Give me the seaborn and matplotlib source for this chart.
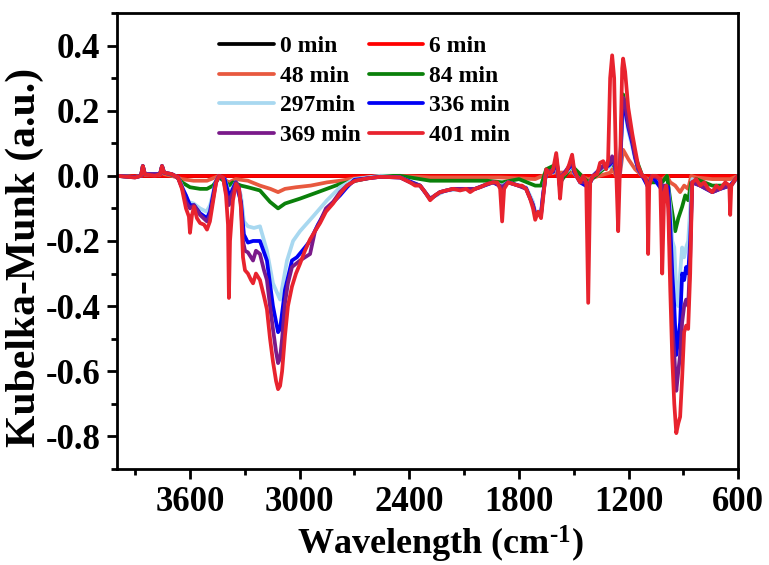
import numpy as np
import pandas as pd
import matplotlib
matplotlib.use("Agg")
import matplotlib.pyplot as plt
from matplotlib.lines import Line2D
from matplotlib.ticker import MultipleLocator, FormatStrFormatter
import seaborn as sns

# ---------------- data ----------------
series_names = ["0 min", "6 min", "48 min", "84 min", "297min", "336 min", "369 min", "401 min"]
series_colors = ["#000000", "#FF0000", "#E8593F", "#0A800A", "#A8D8F0", "#0000F5", "#7A1A8A", "#E8232E"]

wn_0 = [4000, 3000, 2000, 1000, 600]
km_0 = [0.0, 0.0, 0.0, 0.0, 0.0]

wn_6 = [4000, 3000, 2000, 1000, 600]
km_6 = [0.0, 0.0, 0.0, 0.0, 0.0]

wn_48 = [4000, 3901, 3868, 3858, 3847, 3764, 3753, 3742, 3700, 3644, 3580, 3507, 3441, 3387, 3350, 3283,
         3217, 3160, 3118, 3080, 3020, 2940, 2850, 2779, 2700, 2600, 2450, 2286, 2100, 1900, 1711, 1651,
         1596, 1509, 1421, 1300, 1290, 1268, 1246, 1230, 1200, 1164, 1125, 1093, 1016, 990, 972, 945,
         918, 896, 874, 857, 830, 742, 644, 600]
km_48 = [0.0, -0.003, 0.0, 0.02, 0.003, 0.003, 0.02, 0.005, 0.0, -0.01, -0.015, -0.015, 0.0, -0.02, -0.01, -0.015,
         -0.03, -0.04, -0.05, -0.04, -0.035, -0.03, -0.02, -0.015, -0.008, -0.003, 0.0, -0.005, -0.005, -0.005, -0.01, 0.005,
         0.01, 0.01, -0.01, 0.01, 0.02, 0.0, 0.01, 0.08, 0.05, 0.02, 0.0, -0.01, -0.01, 0.0, -0.02, -0.03,
         -0.05, -0.03, -0.04, 0.0, -0.005, -0.01, -0.01, 0.0]

wn_84 = [4000, 3901, 3868, 3858, 3847, 3764, 3753, 3742, 3680, 3644, 3600, 3545, 3507, 3474, 3441, 3403,
         3387, 3365, 3321, 3283, 3217, 3162, 3118, 3080, 2998, 2900, 2779, 2650, 2560, 2450, 2286, 2100,
         1974, 1892, 1800, 1711, 1679, 1651, 1596, 1575, 1509, 1421, 1339, 1301, 1290, 1279, 1268, 1246,
         1235, 1230, 1219, 1202, 1180, 1164, 1125, 1093, 1016, 990, 972, 945, 928, 907, 890, 874, 857,
         830, 742, 644, 600]
km_84 = [0.0, -0.004, 0.0, 0.03, 0.005, 0.005, 0.03, 0.01, 0.0, -0.02, -0.035, -0.04, -0.04, -0.03, -0.005, -0.02,
         -0.03, -0.02, -0.03, -0.035, -0.045, -0.08, -0.10, -0.085, -0.07, -0.05, -0.025, -0.01, 0.0, 0.0, -0.015, -0.015,
         -0.015, -0.02, -0.01, -0.03, -0.03, 0.02, 0.035, -0.02, 0.03, -0.02, 0.02, 0.03, 0.04, 0.03, 0.01, 0.03,
         0.2, 0.25, 0.22, 0.17, 0.1, 0.06, 0.0, -0.02, -0.02, 0.0, -0.075, -0.17, -0.13, -0.095, -0.06, -0.075, -0.02,
         -0.01, -0.03, -0.03, 0.0]

wn_297 = [4000, 3901, 3868, 3858, 3847, 3764, 3753, 3742, 3699, 3666, 3644, 3610, 3580, 3545, 3510, 3490,
          3460, 3441, 3410, 3392, 3387, 3381, 3350, 3321, 3305, 3283, 3250, 3217, 3179, 3146, 3107, 3069,
          3036, 2998, 2927, 2850, 2779, 2700, 2560, 2450, 2341, 2286, 2200, 2040, 1941, 1892, 1859, 1800,
          1761, 1723, 1711, 1679, 1668, 1651, 1613, 1596, 1586, 1575, 1564, 1525, 1509, 1498, 1465, 1421,
          1394, 1339, 1312, 1301, 1290, 1279, 1268, 1257, 1246, 1235, 1230, 1219, 1202, 1180, 1164, 1147,
          1125, 1093, 1071, 1016, 994, 983, 972, 961, 950, 939, 928, 918, 907, 896, 885, 874, 863, 852,
          808, 742, 699, 644, 600]
km_297 = [0.0, -0.004, 0.0, 0.03, 0.005, 0.005, 0.03, 0.01, 0.005, -0.005, -0.03, -0.08, -0.085, -0.10, -0.11, -0.09,
          -0.02, 0.0, -0.01, -0.04, -0.07, -0.05, -0.02, -0.06, -0.14, -0.155, -0.16, -0.155, -0.23, -0.33, -0.38, -0.26,
          -0.2, -0.17, -0.125, -0.075, -0.035, -0.01, 0.0, -0.005, -0.03, -0.07, -0.045, -0.04, -0.02, -0.03, -0.02, -0.03,
          -0.035, -0.08, -0.11, -0.11, -0.05, 0.01, 0.01, 0.04, 0.01, -0.03, 0.0, 0.02, 0.04, 0.01, -0.02, -0.03,
          0.0, 0.025, 0.025, 0.03, 0.05, 0.04, 0.01, -0.02, 0.02, 0.17, 0.2, 0.19, 0.14, 0.09, 0.05, 0.02,
          0.0, -0.03, 0.0, -0.04, -0.03, -0.04, -0.1, -0.2, -0.22, -0.35, -0.4, -0.3, -0.22, -0.25, -0.22, -0.2, -0.1, -0.01,
          -0.03, -0.05, -0.04, -0.03, 0.0]

wn_336 = [4000, 3901, 3868, 3858, 3847, 3764, 3753, 3742, 3699, 3666, 3644, 3622, 3600, 3578, 3545, 3507,
          3491, 3460, 3441, 3410, 3392, 3387, 3381, 3350, 3321, 3305, 3283, 3255, 3239, 3217, 3179, 3146,
          3118, 3107, 3080, 3042, 3015, 2971, 2943, 2900, 2850, 2779, 2741, 2700, 2560, 2450, 2341, 2286,
          2232, 2160, 2040, 1941, 1892, 1859, 1800, 1761, 1723, 1711, 1679, 1668, 1651, 1613, 1596, 1586,
          1575, 1564, 1525, 1509, 1498, 1465, 1421, 1394, 1339, 1312, 1301, 1290, 1279, 1268, 1257, 1246,
          1235, 1230, 1219, 1202, 1180, 1164, 1147, 1125, 1093, 1071, 1016, 994, 983, 972, 961, 950, 939,
          928, 918, 907, 896, 885, 874, 863, 852, 808, 742, 699, 644, 600]
km_336 = [0.0, -0.004, 0.0, 0.03, 0.005, 0.005, 0.03, 0.01, 0.005, -0.005, -0.035, -0.06, -0.09, -0.09, -0.115, -0.13,
          -0.11, -0.02, 0.0, -0.01, -0.05, -0.08, -0.06, -0.02, -0.08, -0.18, -0.205, -0.2, -0.2, -0.2, -0.26, -0.4,
          -0.48, -0.47, -0.35, -0.26, -0.25, -0.22, -0.2, -0.15, -0.1, -0.06, -0.035, -0.012, -0.003, -0.005, -0.03, -0.072,
          -0.05, -0.04, -0.04, -0.02, -0.035, -0.02, -0.03, -0.038, -0.09, -0.115, -0.115, -0.06, 0.012, 0.012, 0.05, 0.012,
          -0.035, 0.0, 0.025, 0.045, 0.012, -0.02, -0.035, 0.0, 0.03, 0.03, 0.035, 0.05, 0.04, 0.01, -0.02, 0.025,
          0.19, 0.22, 0.2, 0.15, 0.1, 0.055, 0.02, 0.0, -0.035, 0.0, -0.045, -0.03, -0.035, -0.15, -0.3, -0.4, -0.55,
          -0.5, -0.45, -0.3, -0.32, -0.28, -0.3, -0.2, -0.02, -0.03, -0.05, -0.04, -0.03, 0.0]

wn_369 = [4000, 3901, 3868, 3858, 3847, 3764, 3753, 3742, 3699, 3666, 3644, 3622, 3600, 3578, 3545, 3507,
          3491, 3474, 3457, 3441, 3419, 3403, 3387, 3381, 3365, 3348, 3332, 3321, 3310, 3299, 3283, 3255,
          3239, 3217, 3195, 3179, 3162, 3146, 3129, 3118, 3107, 3096, 3080, 3064, 3042, 2998, 2971, 2943,
          2916, 2888, 2856, 2817, 2779, 2741, 2697, 2631, 2560, 2450, 2396, 2341, 2286, 2232, 2160, 2089,
          2040, 1974, 1941, 1903, 1892, 1881, 1859, 1804, 1761, 1723, 1711, 1679, 1668, 1651, 1613, 1596,
          1586, 1575, 1564, 1525, 1509, 1498, 1465, 1432, 1421, 1410, 1394, 1339, 1312, 1301, 1290, 1279,
          1268, 1257, 1246, 1235, 1230, 1219, 1202, 1180, 1164, 1147, 1125, 1098, 1093, 1087, 1071, 1027,
          1016, 1005, 994, 983, 972, 961, 950, 939, 928, 918, 907, 896, 885, 874, 863, 852, 808,
          742, 699, 649, 644, 638, 600]
km_369 = [0.0, -0.005, 0.0, 0.03, 0.005, 0.005, 0.03, 0.01, 0.005, -0.005, -0.035, -0.08, -0.1, -0.09, -0.12, -0.14,
          -0.12, -0.07, -0.02, 0.0, -0.005, -0.05, -0.09, -0.07, -0.05, -0.02, -0.035, -0.09, -0.2, -0.23, -0.235, -0.26,
          -0.23, -0.24, -0.29, -0.32, -0.40, -0.47, -0.54, -0.575, -0.56, -0.5, -0.39, -0.33, -0.28, -0.26, -0.25, -0.24,
          -0.17, -0.14, -0.1, -0.08, -0.05, -0.03, -0.015, -0.008, -0.003, -0.005, -0.02, -0.03, -0.07, -0.05, -0.04, -0.04,
          -0.04, -0.025, -0.02, -0.03, -0.04, -0.03, -0.02, -0.03, -0.04, -0.09, -0.12, -0.12, -0.06, 0.015, 0.015, 0.055,
          0.015, -0.04, 0.0, 0.03, 0.05, 0.015, -0.02, -0.02, -0.04, -0.02, 0.0, 0.03, 0.035, 0.04, 0.06, 0.045,
          0.01, -0.02, 0.03, 0.22, 0.24, 0.22, 0.16, 0.11, 0.06, 0.02, 0.0, -0.02, -0.04, -0.02, 0.0, -0.01,
          -0.05, -0.03, -0.03, -0.07, -0.25, -0.45, -0.55, -0.66, -0.6, -0.55, -0.45, -0.4, -0.38, -0.4, -0.25, -0.02, -0.03,
          -0.05, -0.04, -0.03, -0.04, -0.03, 0.0]

wn_401 = [4000, 3901, 3868, 3858, 3847, 3792, 3764, 3753, 3742, 3699, 3666, 3644, 3622, 3606, 3600, 3589,
          3578, 3562, 3545, 3523, 3507, 3491, 3474, 3457, 3441, 3419, 3403, 3392, 3387, 3381, 3365, 3348,
          3332, 3321, 3310, 3299, 3283, 3266, 3255, 3239, 3217, 3195, 3179, 3162, 3146, 3129, 3118, 3107,
          3096, 3080, 3064, 3042, 3020, 2998, 2971, 2943, 2916, 2888, 2856, 2817, 2779, 2741, 2697, 2631,
          2560, 2450, 2396, 2368, 2341, 2314, 2286, 2259, 2232, 2199, 2160, 2122, 2089, 2067, 2040, 2012,
          1974, 1941, 1919, 1903, 1892, 1881, 1859, 1832, 1804, 1783, 1761, 1739, 1723, 1711, 1695, 1679,
          1668, 1651, 1629, 1613, 1596, 1586, 1575, 1564, 1542, 1525, 1509, 1498, 1481, 1465, 1449, 1432,
          1421, 1410, 1394, 1372, 1356, 1339, 1323, 1312, 1301, 1290, 1279, 1268, 1257, 1246, 1235, 1230,
          1219, 1202, 1180, 1164, 1147, 1125, 1109, 1098, 1093, 1087, 1071, 1049, 1027, 1016, 1005, 994,
          983, 972, 961, 950, 939, 928, 918, 907, 896, 885, 874, 863, 852, 830, 808, 786, 764, 742,
          720, 699, 671, 649, 644, 638, 616, 600]
km_401 = [0.0, -0.005, 0.0, 0.03, 0.005, 0.0, 0.005, 0.03, 0.01, 0.005, -0.005, -0.04, -0.1, -0.125, -0.175, -0.12,
          -0.095, -0.13, -0.145, -0.15, -0.165, -0.14, -0.08, -0.02, 0.0, -0.005, -0.06, -0.15, -0.375, -0.2, -0.075, -0.025,
          -0.04, -0.1, -0.25, -0.29, -0.30, -0.32, -0.33, -0.30, -0.32, -0.37, -0.41, -0.50, -0.57, -0.63, -0.655, -0.645,
          -0.6, -0.49, -0.40, -0.34, -0.30, -0.27, -0.23, -0.195, -0.17, -0.145, -0.11, -0.085, -0.055, -0.03, -0.015, -0.008,
          -0.003, -0.005, -0.02, -0.03, -0.03, -0.05, -0.075, -0.06, -0.05, -0.045, -0.04, -0.045, -0.04, -0.05, -0.04, -0.035,
          -0.025, -0.02, -0.02, -0.04, -0.14, -0.04, -0.02, -0.025, -0.03, -0.03, -0.04, -0.07, -0.10, -0.135, -0.11, -0.13,
          -0.07, 0.02, 0.005, 0.02, 0.07, 0.02, -0.07, 0.0, 0.01, 0.035, 0.065, 0.02, -0.005, -0.02, 0.0, -0.02,
          -0.39, -0.02, 0.0, 0.005, 0.04, 0.045, 0.02, 0.05, 0.30, 0.37, 0.30, 0.02, -0.17, 0.05, 0.33, 0.36,
          0.32, 0.21, 0.13, 0.08, 0.03, 0.0, -0.005, -0.03, -0.24, -0.03, 0.0, 0.0, -0.01, -0.30, -0.05, -0.03,
          -0.10, -0.35, -0.56, -0.70, -0.79, -0.76, -0.74, -0.62, -0.48, -0.46, -0.47, -0.30, -0.02, -0.01, -0.03, -0.02, -0.04, -0.05,
          -0.03, -0.04, -0.02, -0.03, -0.12, -0.03, -0.01, 0.0]

# ---------------- build long table ----------------
all_wn = [wn_0, wn_6, wn_48, wn_84, wn_297, wn_336, wn_369, wn_401]
all_km = [km_0, km_6, km_48, km_84, km_297, km_336, km_369, km_401]
frames = []
for name, w, k in zip(series_names, all_wn, all_km):
    frames.append(pd.DataFrame({"wn": w, "km": k, "series": name}))
df = pd.concat(frames, ignore_index=True)

# ---------------- style ----------------
sns.set_theme(style="ticks")
plt.rcParams["font.family"] = ["Liberation Serif", "DejaVu Serif"]
plt.rcParams["font.weight"] = "bold"
plt.rcParams["axes.labelweight"] = "bold"
plt.rcParams["axes.unicode_minus"] = False
plt.rcParams["text.color"] = "black"
plt.rcParams["axes.labelcolor"] = "black"
plt.rcParams["xtick.color"] = "black"
plt.rcParams["ytick.color"] = "black"
plt.rcParams["mathtext.fontset"] = "custom"
plt.rcParams["mathtext.rm"] = "Liberation Serif:bold"
plt.rcParams["mathtext.bf"] = "Liberation Serif:bold"
plt.rcParams["mathtext.it"] = "Liberation Serif:bold"
plt.rcParams["mathtext.default"] = "bf"

fig = plt.figure(figsize=(7.69, 5.65), dpi=100)
ax = fig.add_axes([0.152, 0.170, 0.808, 0.807])

palette = dict(zip(series_names, series_colors))
sns.lineplot(data=df, x="wn", y="km", hue="series", hue_order=series_names,
             palette=palette, estimator=None, sort=False, linewidth=2.7,
             legend=False, ax=ax)

ax.set_xlim(4000, 600)
ax.set_ylim(-0.9, 0.5)
ax.set_xticks([3600, 3000, 2400, 1800, 1200, 600])
ax.xaxis.set_minor_locator(MultipleLocator(300))
ax.yaxis.set_major_locator(MultipleLocator(0.2))
ax.yaxis.set_minor_locator(MultipleLocator(0.1))
ax.yaxis.set_major_formatter(FormatStrFormatter("%.1f"))

for s in ax.spines.values():
    s.set_linewidth(2.0)
    s.set_color("black")
ax.tick_params(axis="both", which="major", direction="out", length=7, width=2.0,
               labelsize=25, top=False, right=False, colors="black", pad=5)
ax.tick_params(axis="both", which="minor", direction="out", length=4.5, width=2.0,
               top=False, right=False, colors="black")
for lbl in ax.get_xticklabels() + ax.get_yticklabels():
    lbl.set_fontweight("bold")

ax.set_xlabel(r"Wavelength (cm$^{\text{-}1}$)", fontsize=26, fontweight="bold", color="black")
ax.set_ylabel("Kubelka-Munk (a.u.)", fontsize=30, fontweight="bold", color="black")
ax.xaxis.set_label_coords(0.52, -0.12)
ax.yaxis.set_label_coords(-0.118, 0.463)

# legend: column 1 = 0, 48, 297, 369 ; column 2 = 6, 84, 336, 401
order = ["0 min", "48 min", "297min", "369 min", "6 min", "84 min", "336 min", "401 min"]
handles = [Line2D([0], [0], color=palette[n], lw=2.7) for n in order]
leg = ax.legend(handles, order, ncol=2, loc="upper left", bbox_to_anchor=(0.165, 0.95),
                frameon=False, handlelength=2.3, handletextpad=0.25,
                columnspacing=0.35, labelspacing=0.34, borderpad=0.0, borderaxespad=0.0,
                prop={"weight": "bold", "size": 17, "family": "Liberation Serif"})
for t in leg.get_texts():
    t.set_color("black")

fig.savefig("out.png", dpi=100)
